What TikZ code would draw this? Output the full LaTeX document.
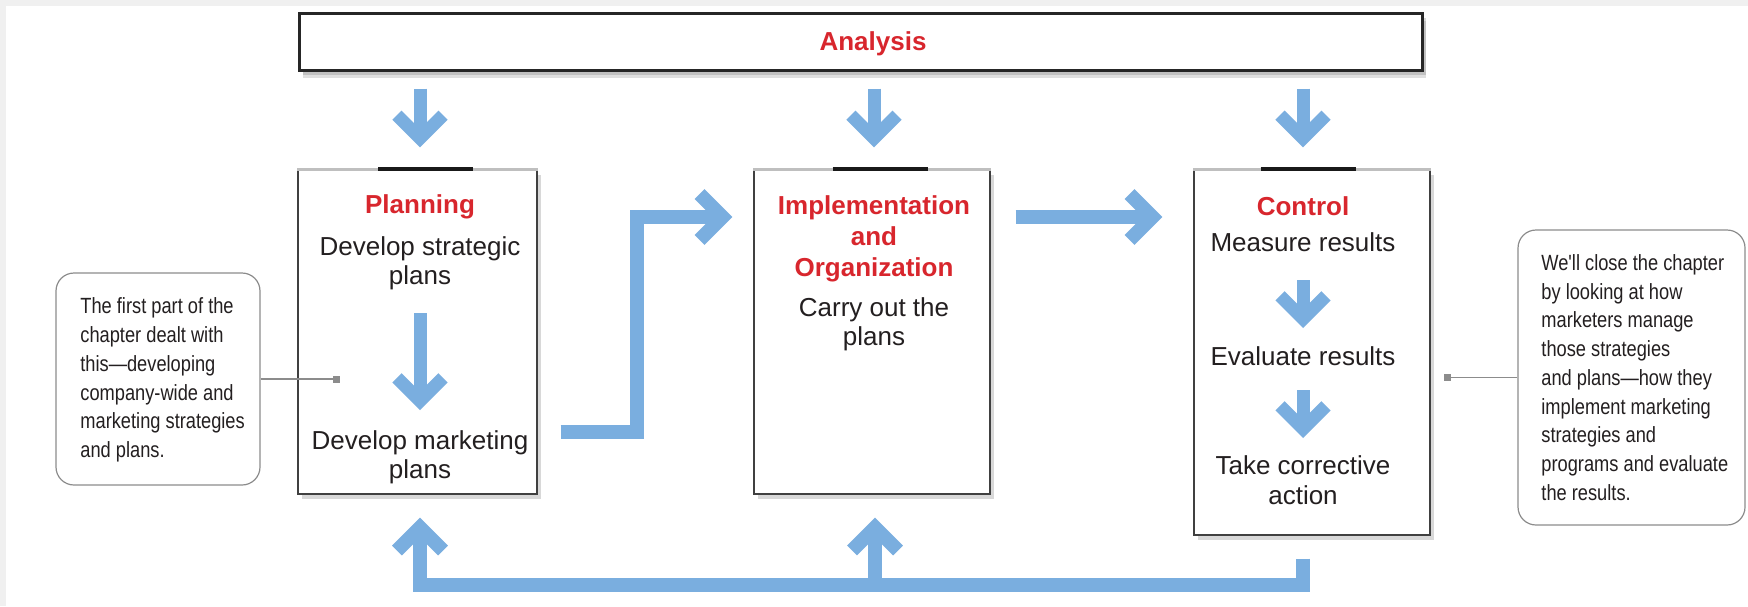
\documentclass[tikz,border=0pt]{standalone}
\usepackage{fontspec}
\setmainfont{Liberation Sans}
\newfontfamily\condfont[FakeStretch=0.83]{Liberation Sans}
\usetikzlibrary{arrows.meta,shadows}
\definecolor{ablue}{HTML}{7AAEDF}
\definecolor{ared}{HTML}{D8262D}
\definecolor{atext}{HTML}{231F20}
\definecolor{bggray}{HTML}{F0F0F0}
\tikzset{
 box/.style={draw=black!75, line width=0.6pt, fill=white, inner sep=0pt,
   drop shadow={shadow xshift=2pt, shadow yshift=-2.5pt, opacity=0.3}},
 callout/.style={draw=black!45, line width=0.6pt, rounded corners=9pt, fill=white, inner sep=0pt},
 title/.style={text=ared, font=\bfseries\fontsize{13}{15}\selectfont, anchor=base, inner sep=0pt},
 body/.style={text=atext, font=\fontsize{13}{15}\selectfont, anchor=base, inner sep=0pt},
 note/.style={text=atext, font=\condfont\fontsize{11}{14.35}\selectfont, align=left, anchor=west, inner sep=0pt},
 flow/.style={draw=ablue, line width=7pt, line join=miter,
   -{Straight Barb[length=11.5pt, width=23pt, line cap=butt, line join=miter]}},
 minor/.style={draw=ablue, line width=6.5pt,
   -{Straight Barb[length=11.5pt, width=23pt, line cap=butt, line join=miter]}},
 lead/.style={draw=black!45, line width=0.6pt},
 dot/.style={fill=black!45, minimum size=3.5pt, inner sep=0pt},
}
\begin{document}
\begin{tikzpicture}[x=0.5pt,y=-0.5pt]
\useasboundingbox (0,0) rectangle (1748,606);
\fill[bggray] (0,0) rectangle (1748,606);
\fill[white] (6,6) rectangle (1748,606);

% Analysis bar
\node[box, draw=black!85, line width=1.5pt, minimum width=561.5pt, minimum height=28.5pt,
  drop shadow={shadow xshift=2pt, shadow yshift=-4pt, opacity=0.25}] (analysis) at (860.5,41.5) {};
\node[title] (antitle) at (873,50) {Analysis};

% main boxes
\node[box, minimum width=119.5pt, minimum height=162pt] (plan) at (417.5,332) {};
\node[box, minimum width=118pt, minimum height=162pt] (impl) at (872,332) {};
\node[box, minimum width=118pt, minimum height=182.5pt] (ctrl) at (1312,352.5) {};
\foreach \b/\s in {plan/4pt, impl/4pt, ctrl/-2pt}{
  \draw[black!25, line width=1.4pt] (\b.north west) -- (\b.north east);
  \draw[black!90, line width=2pt] ([xshift=\s-23.75pt]\b.north) -- ([xshift=\s+23.75pt]\b.north);
}

% Planning texts
\node[title] (p1) at (420,213) {Planning};
\node[body] (p2) at (420,255) {Develop strategic};
\node[body] (p3) at (420,284) {plans};
\node[body] (p4) at (420,449) {Develop marketing};
\node[body] (p5) at (420,478) {plans};

% Implementation texts
\node[title] (i1) at (874,214) {Implementation};
\node[title] (i2) at (874,245) {and};
\node[title] (i3) at (874,276) {Organization};
\node[body] (i4) at (874,316) {Carry out the};
\node[body] (i5) at (874,345) {plans};

% Control texts
\node[title] (c1) at (1303,215) {Control};
\node[body] (c2) at (1303,251) {Measure results};
\node[body] (c3) at (1303,365) {Evaluate results};
\node[body] (c4) at (1303,474) {Take corrective};
\node[body] (c5) at (1303,504) {action};

% callouts
\node[callout, minimum width=102pt, minimum height=106pt] (leftnote) at (158,379) {};
\node[note] (lefttext) at (80,380) {The first part of the\\chapter dealt with\\this\textemdash developing\\company-wide and\\marketing strategies\\and plans.};
\node[callout, minimum width=113.5pt, minimum height=147.5pt] (rightnote) at (1631.5,377.5) {};
\node[note] (righttext) at (1541,377.5) {We'll close the chapter\\by looking at how\\marketers manage\\those strategies\\and plans\textemdash how they\\implement marketing\\strategies and\\programs and evaluate\\the results.};

\node[dot] (sqL) at (336,379) {};
\node[dot] (sqR) at (1447,377.5) {};
\draw[lead] (leftnote.east) -- (sqL.center);
\draw[lead] (rightnote.west) -- (sqR.center);

% arrows from Analysis
\draw[minor, shorten <=8.5pt, shorten >=11pt] (analysis.south -| p1) -- (plan.north -| p1);
\draw[minor, shorten <=8.5pt, shorten >=11pt] (analysis.south -| i1) -- (impl.north -| i1);
\draw[minor, shorten <=8.5pt, shorten >=11pt] (analysis.south -| c1) -- (ctrl.north -| c1);

% inner arrows
\draw[minor, shorten <=14.5pt, shorten >=19.5pt] (p3.base) -- (p4.base);
\draw[minor, shorten <=14.5pt, shorten >=18.5pt] (c2.base) -- (c3.base);
\draw[minor, shorten <=12.5pt, shorten >=18pt] (c3.base) -- (c4.base);

% flow arrows
\coordinate (bendA) at (637,432);
\coordinate (bendB) at (637,217);
\draw[flow, shorten <=11.5pt, shorten >=10.5pt] (plan.east |- bendA) -- (bendA) -- (bendB) -- (impl.west |- bendB);
\draw[flow, shorten <=12.5pt, shorten >=15.5pt] (impl.east |- bendB) -- (ctrl.west |- bendB);

% feedback
\coordinate (fbR) at (1303,585);
\coordinate (fbL) at (420,585);
\coordinate (fbM) at (875,585);
\draw[flow, shorten <=11.5pt, shorten >=11.5pt] (ctrl.south -| fbR) -- (fbR) -- (fbL) -- (plan.south -| fbL);
\draw[flow, shorten >=11.5pt] (fbM) -- (impl.south -| fbM);
\end{tikzpicture}
\end{document}
